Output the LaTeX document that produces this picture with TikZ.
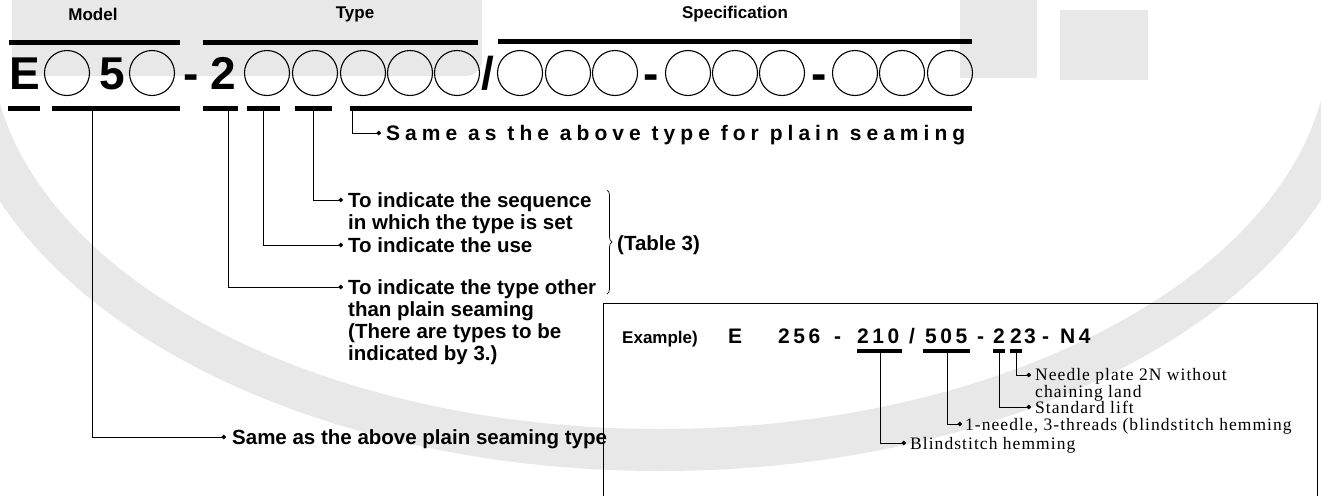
\documentclass[tikz,border=0pt]{standalone}
\usepackage{fontspec}
\setmainfont{Liberation Sans}
\newfontfamily\serifx[LetterSpace=6]{Liberation Serif}
\newfontfamily\codefont{Liberation Sans}
\newfontfamily\widefont[LetterSpace=24]{Liberation Sans}
\usetikzlibrary{arrows.meta,decorations.pathreplacing}
\begin{document}
\begin{tikzpicture}[x=1pt,y=-1pt,
  lab/.style={font=\fontsize{17}{20}\selectfont\bfseries, inner sep=0},
  big/.style={font=\fontsize{46}{46}\selectfont\bfseries, inner sep=0, anchor=base},
  slot/.style={circle, draw, line width=1.1pt, minimum size=45pt, inner sep=0},
  bar/.style={line width=5pt},
  ubar/.style={line width=4pt},
  lead/.style={line width=0.7pt, -{Circle[length=4.5pt]}},
  note/.style={font=\fontsize{20.5}{22}\selectfont\bfseries, inner sep=0, anchor=base west, align=left},
  mnote/.style={note, anchor=north west},
  snote/.style={font=\serifx\fontsize{17.5}{14}\selectfont, inner sep=0, anchor=base west, align=left},
  code/.style={font=\codefont\fontsize{21}{21}\selectfont\bfseries, inner sep=0, anchor=base west},
  wm/.style={black!9}
]
\useasboundingbox (0,0) rectangle (1321,496);
% watermark
\fill[wm, rounded corners=16pt] (12,-20) rectangle (482,76);
\fill[wm] (960,0) rectangle (1037,78);
\fill[wm] (1060,10) rectangle (1148,80);
\draw[wm, line width=42pt] (-30,40) arc[start angle=180, end angle=0, x radius=690, y radius=410];

% headers
\node[lab] (hM) at (93,14) {Model};
\node[lab] (hT) at (355,14) {Type};
\node[lab] (hS) at (735,14) {Specification};
\draw[bar] (9,42) -- (180,42);
\draw[bar] (203,42) -- (478,42);
\draw[bar] (498,41) -- (972,41);

% main code row
\node[big] (cE) at (25,89) {E};
\node[slot] (m1) at (67,73) {};
\node[big] (c5) at (112,89) {5};
\node[slot] (m2) at (152,73) {};
\node[big] (cd1) at (191,89) {-};
\node[big] (c2) at (223,89) {2};
\foreach \x [count=\i] in {267,315,363,410,457} \node[slot] (t\i) at (\x,73) {};
\node[big] (csl) at (488,89) {/};
\foreach \x [count=\i] in {520,568,615} \node[slot] (sa\i) at (\x,73) {};
\node[big] (cd2) at (651,89) {-};
\foreach \x [count=\i] in {688,735,782} \node[slot] (sb\i) at (\x,73) {};
\node[big] (cd3) at (819,89) {-};
\foreach \x [count=\i] in {855,902,950} \node[slot] (sc\i) at (\x,73) {};

% under bars
\draw[bar] (8,108) -- (40,108);
\draw[bar] (52,108) -- (180,108);
\draw[bar] (203,108) -- (238,108);
\draw[bar] (247,108) -- (280,108);
\draw[bar] (295,108) -- (332,108);
\draw[bar] (350,108) -- (972,108);
\coordinate (uM) at (92,110);
\coordinate (u2) at (228,110);
\coordinate (u3) at (263,110);
\coordinate (u4) at (313,110);
\coordinate (uS) at (352,110);

% notes
\node[note, font=\widefont\fontsize{21}{22}\selectfont\bfseries] (nS) at (386,140) {Same as the above type for plain seaming};
\node[mnote] (nSeq) at (348,192.5) {To indicate the sequence\\in which the type is set};
\node[note] (nUse) at (348,252) {To indicate the use};
\node[mnote] (nOther) at (348,279.5) {To indicate the type other\\than plain seaming\\(There are types to be\\indicated by 3.)};
\node[note] (nSame) at (232,444) {Same as the above plain seaming type};
\node[note] (nTab) at (617,250) {(Table 3)};

\coordinate (eS) at (381,133);
\coordinate (eSeq) at (343,200);
\coordinate (eUse) at (343,245);
\coordinate (eOther) at (343,287);
\coordinate (eSame) at (226,437);
\draw[lead] (uS) |- (eS);
\draw[lead] (u4) |- (eSeq);
\draw[lead] (u3) |- (eUse);
\draw[lead] (u2) |- (eOther);
\draw[lead] (uM) |- (eSame);

\draw[line width=0.7pt, decorate, decoration={brace, amplitude=5pt, aspect=0.5}] (607,190) -- (607,294);

% example box
\draw[line width=0.8pt] (603,496) -- (603,303) -- (1317,303) -- (1317,496);
\node[lab, anchor=base west] (ex) at (622,343) {Example)};
\node[code] (xE) at (728,343) {E};
\node[code] (x256) at (778,343) {2\,5\,6};
\node[code] (xd1) at (834,343) {-};
\node[code] (x210) at (857,343) {2\,1\,0};
\node[code] (xsl) at (909,343) {/};
\node[code] (x505) at (925,343) {5\,0\,5};
\node[code] (xd2) at (977,343) {-};
\node[code] (xa) at (993,343) {2};
\node[code] (xb) at (1010,343) {2};
\node[code] (xc) at (1024,343) {3};
\node[code] (xd3) at (1042,343) {-};
\node[code] (xN) at (1060,343) {N\,4};
\draw[ubar] (857,351) -- (902,351);
\draw[ubar] (923,351) -- (970,351);
\draw[ubar] (993,351) -- (1005,351);
\draw[ubar] (1010,351) -- (1022,351);
\coordinate (v210) at (880,353);
\coordinate (v505) at (947,353);
\coordinate (va) at (999,353);
\coordinate (vb) at (1016,353);
\coordinate (eN) at (1031,375);
\coordinate (eL) at (1031,407);
\coordinate (e1) at (962,424);
\coordinate (eB) at (906,443);
\node[snote, anchor=north west] (sN) at (1035,368) {Needle plate 2N without\\chaining land};
\node[snote] (sL) at (1035,413) {Standard lift};
\node[snote] (s1) at (965,430) {1-needle, 3-threads (blindstitch hemming};
\node[snote] (sB) at (910,449) {Blindstitch hemming};
\draw[lead] (vb) |- (eN);
\draw[lead] (va) |- (eL);
\draw[lead] (v505) |- (e1);
\draw[lead] (v210) |- (eB);
\end{tikzpicture}
\end{document}
